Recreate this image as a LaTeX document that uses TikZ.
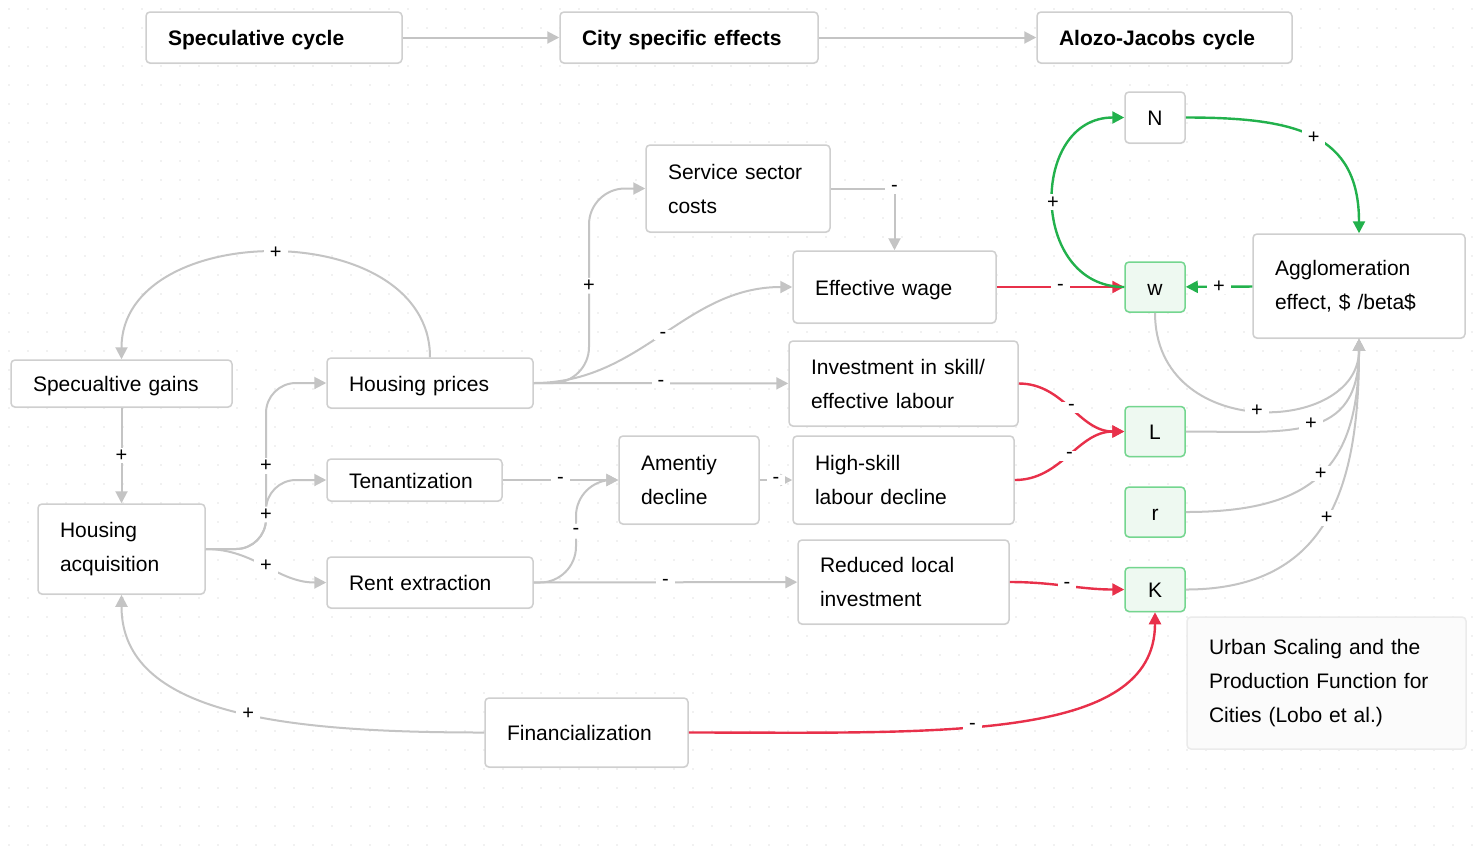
\documentclass[tikz,border=0pt]{standalone}
\usepackage{fontspec}
\setmainfont{Liberation Sans}
\usepackage{tikz}
\usetikzlibrary{positioning}
\usetikzlibrary{arrows.meta}
\usetikzlibrary{shadows}

\definecolor{linegray}{HTML}{C4C4C4}
\definecolor{boxgray}{HTML}{CFCFCF}
\definecolor{negred}{HTML}{E8304A}
\definecolor{posgreen}{HTML}{22B14C}
\definecolor{varborder}{HTML}{74D68F}
\definecolor{varfill}{HTML}{EEF9F1}
\definecolor{notefill}{HTML}{FBFBFB}
\definecolor{noteborder}{HTML}{EBEBEB}
\definecolor{dotgray}{HTML}{E3E3E3}

\tikzset{
    card/.style={draw=boxgray, line width=0.75pt, rounded corners=2pt, fill=white,
        align=left, inner xsep=11pt, inner ysep=0pt,
        font=\fontsize{10.5}{17}\selectfont},
    box/.style={card, drop shadow={opacity=0.12, shadow xshift=0pt, shadow yshift=-0.6pt}},
    oneline/.style={text height=0.8em, text depth=0pt},
    header/.style={oneline, font=\fontsize{10.5}{17}\selectfont\bfseries, minimum height=25.5pt},
    var/.style={fill=varfill, draw=varborder, align=center, inner xsep=0pt,
        minimum width=30pt, minimum height=25pt},
    link/.style={draw=linegray, line width=1pt},
    neglink/.style={draw=negred, line width=1.2pt},
    poslink/.style={draw=posgreen, line width=1.2pt}
}

\begin{document}
\begin{tikzpicture}[x=0.5pt, y=-0.5pt]
        \useasboundingbox (0,0) rectangle (1476,848);
        \fill[white] (0,0) rectangle (1476,848);
        % dotted canvas
        \foreach \i in {0,...,77} {
            \foreach \j in {0,...,44} {
                \fill[dotgray] (\i*19+9,\j*19+9) circle (0.45pt);
            }
        }

        \begin{scope}[every node/.style={box}]
            \node[header, text width=106pt] (spec) at (274,37.5) {Speculative cycle};
            \node[header, text width=107pt] (city) at (689,37.5) {City specific effects};
            \node[header, text width=105.5pt] (alozo) at (1164.5,37.5) {Alozo-Jacobs cycle};

            \node[oneline, text width=88.5pt, minimum height=23.5pt] (sgains) at (121.5,383.5) {Specualtive gains};
            \node[oneline, text width=81pt, minimum height=25pt] (hprices) at (430,383) {Housing prices};
            \node[text width=61.5pt, minimum height=45pt] (hacq) at (121.5,549) {Housing\\acquisition};
            \node[oneline, text width=65.5pt, minimum height=21pt] (tenant) at (414.5,480) {Tenantization};
            \node[oneline, text width=81pt, minimum height=25.5pt] (rent) at (430,582.5) {Rent extraction};
            \node[oneline, text width=79.5pt, minimum height=34.5pt] (fin) at (586.5,732.5) {Financialization};

            \node[text width=70pt, minimum height=43.5pt] (service) at (738,188.5) {Service sector\\costs};
            \node[text width=48pt, minimum height=44pt] (amen) at (689,480) {Amentiy\\decline};
            \node[oneline, text width=79.5pt, minimum height=36pt] (effwage) at (894.5,287) {Effective wage};
            \node[text width=92.5pt, minimum height=42.5pt] (invest) at (903.5,383.5) {Investment in skill/\\effective labour};
            \node[text width=88.5pt, minimum height=44pt] (hskill) at (903.5,480) {High-skill\\labour decline};
            \node[text width=83.5pt, minimum height=42pt] (reduced) at (903.5,582) {Reduced local\\investment};

            \node[oneline, minimum width=30pt, minimum height=25.5pt, align=center, inner xsep=0pt] (N) at (1155,117.5) {N};
            \node[var, oneline] (w) at (1155,287) {w};
            \node[var, oneline] (L) at (1155,431.5) {L};
            \node[var, oneline] (r) at (1155,512) {r};
            \node[var, oneline, minimum height=22pt] (K) at (1155,589.5) {K};
            \node[text width=84pt, minimum height=52pt] (agg) at (1359,286) {Agglomeration\\effect, \$ /beta\$};
        \end{scope}

        \node[card, fill=notefill, draw=noteborder, text width=117.5pt, minimum height=66pt] (note) at (1326.5,683)
            {Urban Scaling and the\\Production Function for\\Cities (Lobo et al.)};

        \begin{scope}[>={Triangle[length=6pt,width=6pt]},
            every node/.style={fill=white, inner xsep=3pt, inner ysep=1pt, font=\fontsize{10}{11}\selectfont},
            every edge/.style={link}]
            \path [->] (spec) edge (city);
            \path [->] (city) edge (alozo);

            % speculative cycle
            \path [->] (hprices.north) edge[out=90, in=90, distance=70.5pt] node {+} (sgains.north);
            \path [->] (sgains) edge node {+} (hacq);
            \draw [link, ->, rounded corners=15pt] (hacq.east) -- (266,549) -- node {+} (266,383) -- (hprices.west);
            \draw [link, ->, rounded corners=15pt] (hacq.east) -- (266,549) -- node {+} (266,480) -- (tenant.west);
            \path [->] (hacq.east) edge[out=0, in=180] node {+} (rent.west);
            \path [->] (fin.west) edge[out=180, in=-90, out distance=100pt, in distance=60pt] node[pos=0.45] {+} (hacq.south);

            % city specific effects
            \draw [link, ->, rounded corners=18pt] (hprices.east) -- (589,383) -- node {+} (589,188.5) -- (service.west);
            \path [->] (hprices.east) edge[out=0, in=180] node {-} (effwage.west);
            \path [->] (hprices) edge node {-} (invest);
            \draw [link, ->] (service.east) -| node[pos=0.5] {-} (effwage.north);
            \path [->] (tenant) edge node {-} (amen);
            \draw [link, ->, rounded corners=18pt] (rent.east) -- (576,582.5) -- node {-} (576,480) -- (amen.west);
            \path [->] (rent) edge node {-} (reduced);
            \path [->] (amen) edge node {-} (hskill);

            % negative links into the production function
            \path [->] (effwage) edge[neglink] node {-} (w);
            \path [->] (invest.east) edge[neglink, out=0, in=180] node {-} (L.west);
            \path [->] (hskill.east) edge[neglink, out=0, in=180] node {-} (L.west);
            \path [->] (reduced.east) edge[neglink, out=0, in=180] node {-} (K.west);
            \path [->] (fin.east) edge[neglink, out=0, in=-90, out distance=125pt, in distance=65pt] node[pos=0.42] {-} (K.south);

            % alozo-jacobs cycle
            \path [->] (w.west) edge[poslink, out=180, in=180, distance=47.5pt] node {+} (N.west);
            \path [->] (N.east) edge[poslink, out=0, in=90, out distance=55pt, in distance=50pt] node {+} (agg.north);
            \path [->] (agg) edge[poslink] node {+} (w);
            \path [->] (w.south) edge[out=-90, in=-90, out distance=65pt, in distance=48pt] node {+} (agg.south);
            \path [->] (L.east) edge[out=0, in=-90, out distance=51.5pt, in distance=52pt] node {+} (agg.south);
            \path [->] (r.east) edge[out=0, in=-90, out distance=64.5pt, in distance=64pt] node {+} (agg.south);
            \path [->] (K.east) edge[out=0, in=-90, out distance=72.5pt, in distance=72pt] node {+} (agg.south);
        \end{scope}
\end{tikzpicture}
\end{document}
